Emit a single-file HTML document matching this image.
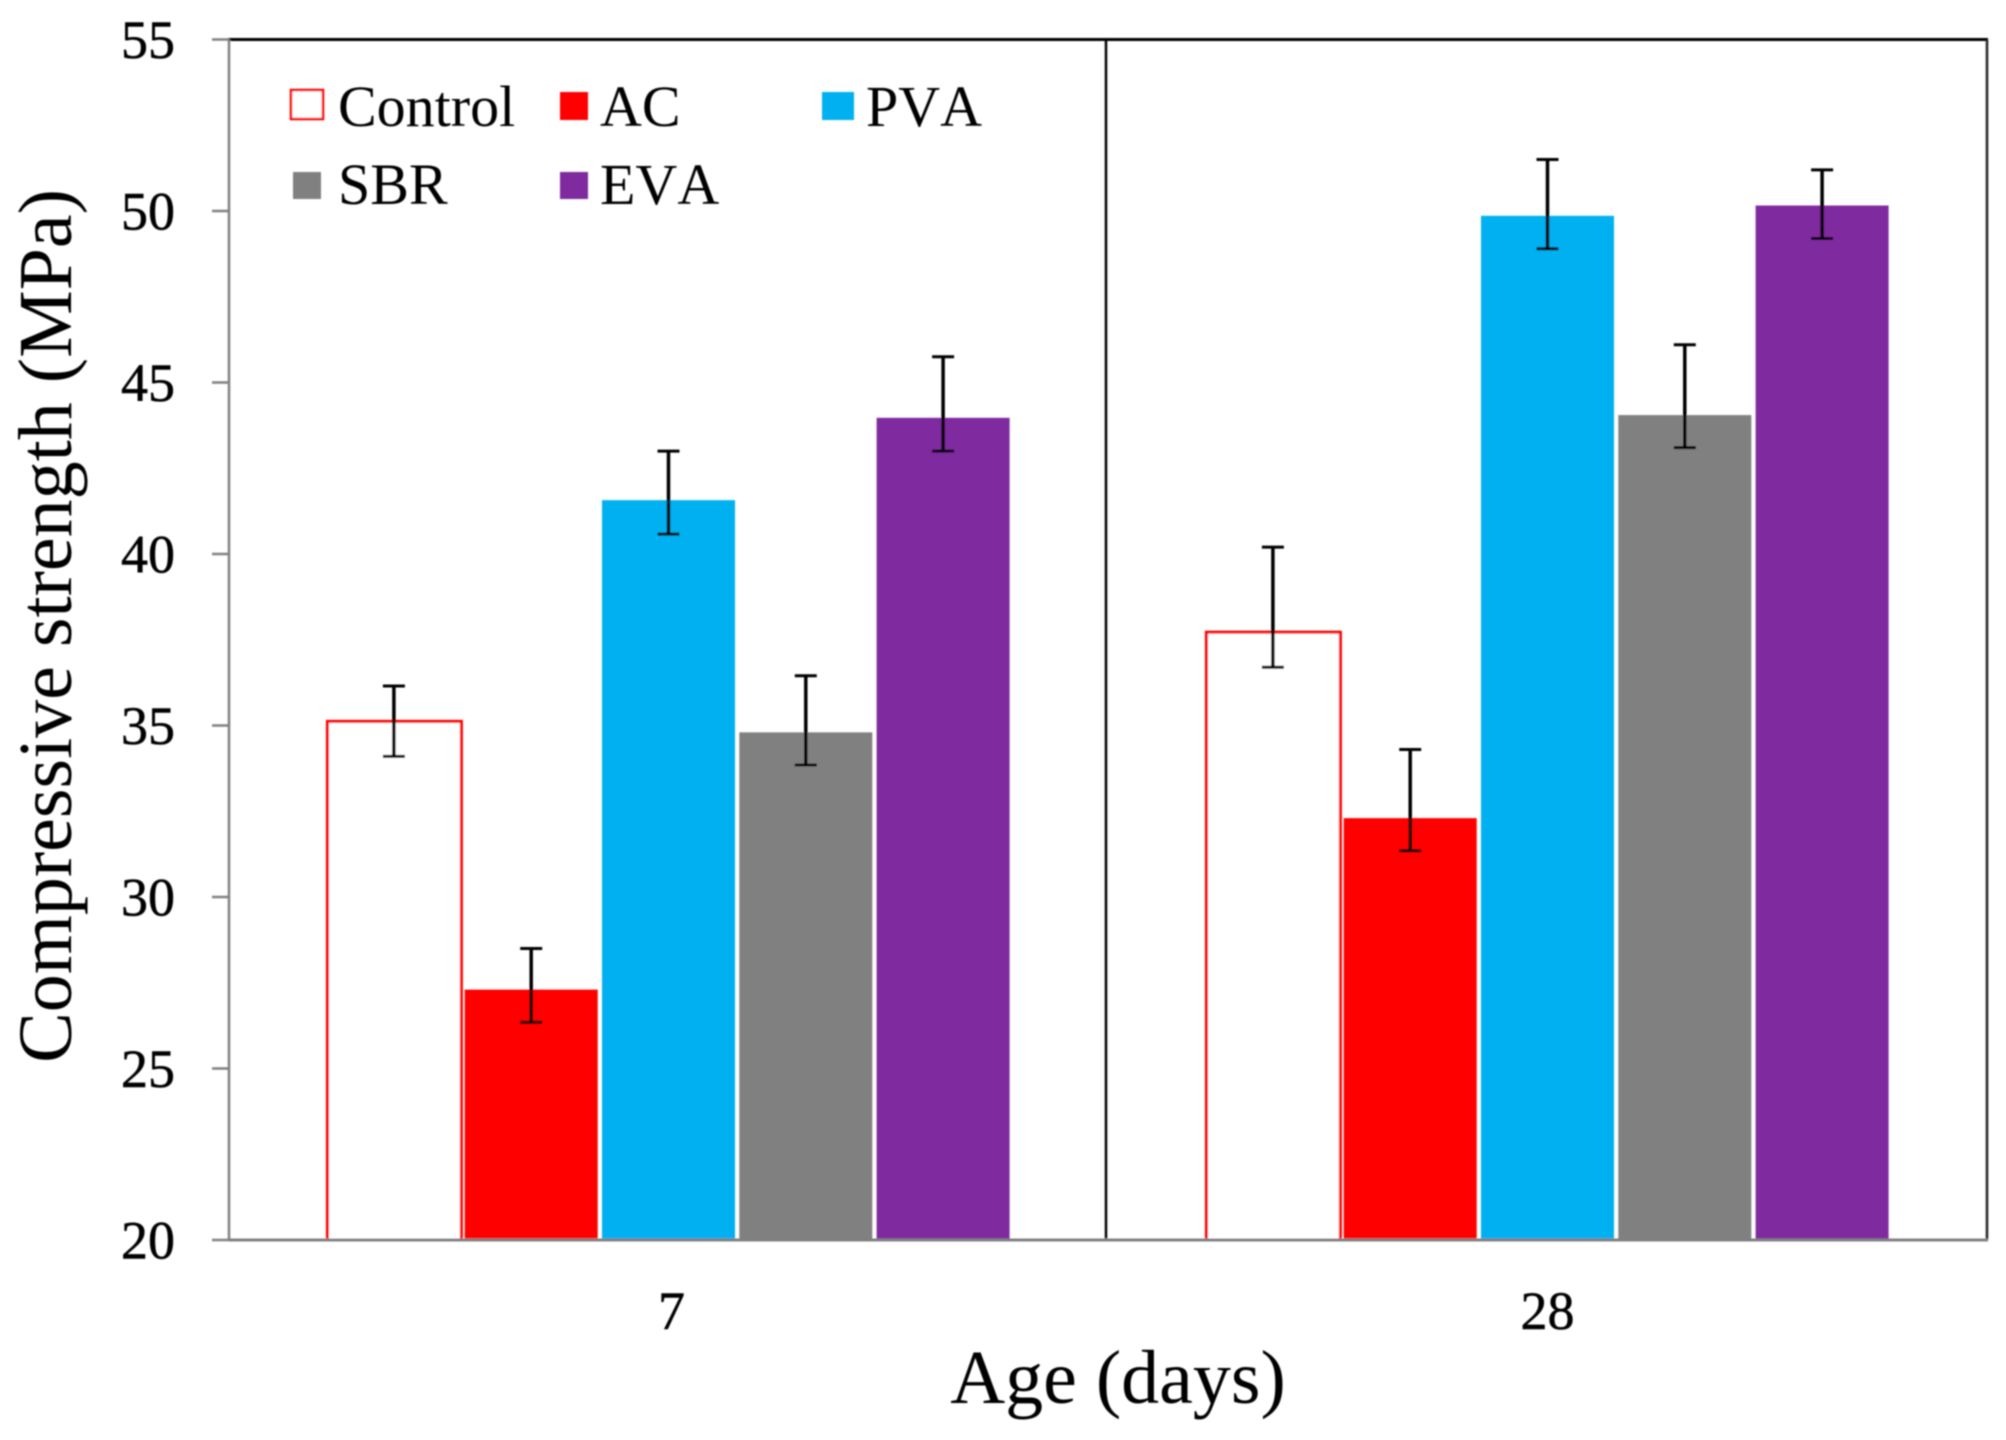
<!DOCTYPE html>
<html>
<head>
<meta charset="utf-8">
<style>
html,body{margin:0;padding:0;background:#fff;}
svg{display:block;font-family:"Liberation Serif",serif;font-kerning:none;}
</style>
</head>
<body>
<svg id="chart" width="2006" height="1440" viewBox="0 0 2006 1440" xmlns="http://www.w3.org/2000/svg">
<defs><filter id="soft" x="-5%" y="-5%" width="110%" height="110%"><feGaussianBlur stdDeviation="0.7"/></filter></defs>
<g id="root" filter="url(#soft)"></g>
</svg>
<script>
var categories = ['7', '28'];
var seriesNames = ['Control', 'AC', 'PVA', 'SBR', 'EVA'];
var controlValues = [35.15, 37.75];
var acValues = [27.3, 32.3];
var pvaValues = [41.57, 49.86];
var sbrValues = [34.8, 44.05];
var evaValues = [43.97, 50.16];
var controlErrUpper = [36.15, 40.2];
var acErrUpper = [28.5, 34.3];
var pvaErrUpper = [43.0, 51.5];
var sbrErrUpper = [36.45, 46.1];
var evaErrUpper = [45.75, 51.2];
var controlErrLower = [34.1, 36.7];
var acErrLower = [26.35, 31.35];
var pvaErrLower = [40.58, 48.9];
var sbrErrLower = [33.85, 43.1];
var evaErrLower = [43.0, 49.2];
var yTickLabels = [20, 25, 30, 35, 40, 45, 50, 55];

var svgNS = 'http://www.w3.org/2000/svg';
var root = document.getElementById('root');
function make(tag, attrs, text) {
  var el = document.createElementNS(svgNS, tag);
  for (var k in attrs) el.setAttribute(k, attrs[k]);
  if (text !== undefined) el.textContent = text;
  root.appendChild(el);
  return el;
}

var plotLeft = 229, plotRight = 1987, plotTop = 39.5, plotBottom = 1240;
var yMin = 20, yMax = 55;
function yScale(v) { return plotBottom - (v - yMin) / (yMax - yMin) * (plotBottom - plotTop); }
var band = (plotRight - plotLeft) / categories.length;
function xBand(c) { return plotLeft + band * (c + 0.5); }
var barStep = 137.3, barWidth = 133;
function xBar(c, s) { return xBand(c) + (s - (seriesNames.length - 1) / 2) * barStep; }

var seriesValues = [controlValues, acValues, pvaValues, sbrValues, evaValues];
var seriesUpper = [controlErrUpper, acErrUpper, pvaErrUpper, sbrErrUpper, evaErrUpper];
var seriesLower = [controlErrLower, acErrLower, pvaErrLower, sbrErrLower, evaErrLower];
var seriesFill = ['#ffffff', '#ff0000', '#00b0f0', '#808080', '#7f2b9f'];

/* bars */
seriesNames.forEach(function (name, s) {
  categories.forEach(function (cat, c) {
    var cx = xBar(c, s), top = yScale(seriesValues[s][c]);
    var bar = make('rect', s === 0
      ? {x: cx - barWidth / 2, y: top + 1, width: barWidth + 1, height: plotBottom - top - 1, fill: '#fff', stroke: '#ff0000', 'stroke-width': 3}
      : {x: cx - barWidth / 2, y: top, width: barWidth, height: plotBottom - top, fill: seriesFill[s]});
    
    
  });
});

/* frame */
var frameTop = make('line', {x1: plotLeft - 1, x2: plotRight + 1, y1: plotTop, y2: plotTop, stroke: '#000', 'stroke-width': 3});


var frameRight = make('line', {x1: plotRight, x2: plotRight, y1: plotTop, y2: plotBottom, stroke: '#222', 'stroke-width': 2.5});


var divider = make('line', {x1: plotLeft + band - 2, x2: plotLeft + band - 2, y1: plotTop, y2: plotBottom, stroke: '#000', 'stroke-width': 2.5});


var yAxis = make('line', {x1: plotLeft, x2: plotLeft, y1: plotTop, y2: plotBottom, stroke: '#808080', 'stroke-width': 2.5});


var xAxis = make('line', {x1: plotLeft, x2: plotRight + 1, y1: plotBottom, y2: plotBottom, stroke: '#808080', 'stroke-width': 3});



/* y ticks */
yTickLabels.forEach(function (t) {
  var y = yScale(t);
  var tick = make('line', {x1: 212, x2: plotLeft, y1: y, y2: y, stroke: '#808080', 'stroke-width': 2.5});
  
  
  var label = make('text', {x: 175, y: y + 18.5, 'text-anchor': 'end', 'font-size': 54, fill: '#000', stroke: '#000', 'stroke-width': 0.5}, String(t));
  
  
});

/* x labels */
var xLabelNudge = [3, 0];
categories.forEach(function (cat, c) {
  var label = make('text', {x: xBand(c) + xLabelNudge[c], y: 1329, 'text-anchor': 'middle', 'font-size': 54, fill: '#000', stroke: '#000', 'stroke-width': 0.5}, cat);
  
  
});

/* error bars */
seriesNames.forEach(function (name, s) {
  categories.forEach(function (cat, c) {
    var cx = xBar(c, s), yU = yScale(seriesUpper[s][c]), yL = yScale(seriesLower[s][c]);
    var stem = make('line', {x1: cx, x2: cx, y1: yU, y2: yL, stroke: '#000', 'stroke-width': 3.5});
    
    
    var capU = make('line', {x1: cx - 11, x2: cx + 11, y1: yU, y2: yU, stroke: '#000', 'stroke-width': 3});
    
    
    var capL = make('line', {x1: cx - 11, x2: cx + 11, y1: yL, y2: yL, stroke: '#000', 'stroke-width': 3});
    
    
  });
});

/* titles */
var xTitle = make('text', {x: 1118, y: 1403, 'text-anchor': 'middle', 'font-size': 76, fill: '#000'}, 'Age (days)');


var yTitle = make('text', {x: 0, y: 0, 'text-anchor': 'middle', 'font-size': 76, fill: '#000', transform: 'translate(71 626) rotate(-90)'}, 'Compressive strength (MPa)');



/* legend */
var legendLabelX = [338, 600, 866, 338, 600];
var legendBaseY = [126, 126, 126, 204, 204];
var legendSwatchX = [291, 560, 822, 293, 560];
var legendSwatchY = [90, 92, 92, 172, 172];
var legendSwatchW = [32, 28, 32, 28, 28];
var legendSwatchH = [29, 28, 28, 27, 27];
seriesNames.forEach(function (name, s) {
  var sw = make('rect', s === 0
    ? {x: legendSwatchX[s], y: legendSwatchY[s], width: legendSwatchW[s], height: legendSwatchH[s], fill: '#fff', stroke: '#ff0000', 'stroke-width': 2.5}
    : {x: legendSwatchX[s], y: legendSwatchY[s], width: legendSwatchW[s], height: legendSwatchH[s], fill: seriesFill[s]});
  
  
  var t = make('text', {x: legendLabelX[s], y: legendBaseY[s], 'font-size': 58, fill: '#000'}, name);
  
  
});
</script>
</body>
</html>
